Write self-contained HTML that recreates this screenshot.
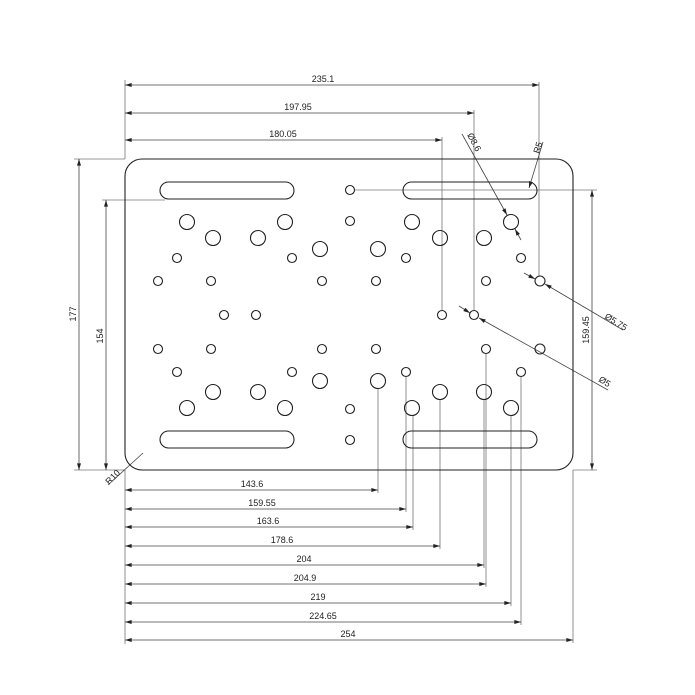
<!DOCTYPE html>
<html><head><meta charset="utf-8"><style>
html,body{margin:0;padding:0;background:#fff}
svg{display:block}
text{font-family:"Liberation Sans",sans-serif;font-size:9px;fill:#222}
</style></head><body>
<svg width="695" height="695" viewBox="0 0 695 695" xmlns="http://www.w3.org/2000/svg">
<defs>
<marker id="a" viewBox="0 0 10 6" refX="10" refY="3" markerWidth="7" markerHeight="4" orient="auto-start-reverse" markerUnits="userSpaceOnUse"><path d="M0,0L10,3L0,6z" fill="#222"/></marker>
</defs>
<g fill="none" stroke="#777" stroke-width="0.8">
<!-- top extension -->
<line x1="125" y1="80" x2="125" y2="159"/>
<line x1="539" y1="82" x2="539" y2="276"/>
<line x1="474" y1="110" x2="474" y2="310"/>
<line x1="442" y1="137" x2="442" y2="310"/>
<!-- left -->
<line x1="74" y1="159" x2="125" y2="159"/>
<line x1="74" y1="470" x2="125" y2="470"/>
<line x1="102" y1="200" x2="165" y2="200"/>
<line x1="355" y1="190" x2="597" y2="190"/>
<line x1="573" y1="470" x2="597" y2="470"/>
<!-- bottom extension -->
<line x1="125" y1="470" x2="125" y2="644"/>
<line x1="378" y1="389" x2="378" y2="493"/>
<line x1="406" y1="377" x2="406" y2="512"/>
<line x1="413" y1="416" x2="413" y2="530"/>
<line x1="440" y1="400" x2="440" y2="549"/>
<line x1="484" y1="400" x2="484" y2="568"/>
<line x1="486" y1="354" x2="486" y2="587"/>
<line x1="511" y1="416" x2="511" y2="606"/>
<line x1="521" y1="377" x2="521" y2="625"/>
<line x1="573" y1="470" x2="573" y2="643"/>
</g>
<g fill="none" stroke="#444" stroke-width="0.8">
<line x1="125" y1="85" x2="539" y2="85" marker-start="url(#a)" marker-end="url(#a)"/>
<line x1="125" y1="113" x2="474" y2="113" marker-start="url(#a)" marker-end="url(#a)"/>
<line x1="125" y1="140" x2="442" y2="140" marker-start="url(#a)" marker-end="url(#a)"/>
<line x1="79" y1="159" x2="79" y2="470" marker-start="url(#a)" marker-end="url(#a)"/>
<line x1="106" y1="200" x2="106" y2="470" marker-start="url(#a)" marker-end="url(#a)"/>
<line x1="592" y1="190" x2="592" y2="470" marker-start="url(#a)" marker-end="url(#a)"/>
<line x1="125" y1="490" x2="378" y2="490" marker-start="url(#a)" marker-end="url(#a)"/>
<line x1="125" y1="509" x2="406" y2="509" marker-start="url(#a)" marker-end="url(#a)"/>
<line x1="125" y1="527" x2="413" y2="527" marker-start="url(#a)" marker-end="url(#a)"/>
<line x1="125" y1="546" x2="440" y2="546" marker-start="url(#a)" marker-end="url(#a)"/>
<line x1="125" y1="565" x2="484" y2="565" marker-start="url(#a)" marker-end="url(#a)"/>
<line x1="125" y1="584" x2="486" y2="584" marker-start="url(#a)" marker-end="url(#a)"/>
<line x1="125" y1="603" x2="511" y2="603" marker-start="url(#a)" marker-end="url(#a)"/>
<line x1="125" y1="622" x2="521" y2="622" marker-start="url(#a)" marker-end="url(#a)"/>
<line x1="125" y1="640" x2="573" y2="640" marker-start="url(#a)" marker-end="url(#a)"/>
<!-- leaders -->
<line x1="462" y1="134" x2="507" y2="215" marker-end="url(#a)"/>
<line x1="521" y1="240" x2="515" y2="229" marker-end="url(#a)"/>
<line x1="543" y1="142" x2="529" y2="188" marker-end="url(#a)"/>
<line x1="524" y1="273" x2="535" y2="279" marker-end="url(#a)"/>
<line x1="623" y1="330" x2="545" y2="284" marker-end="url(#a)"/>
<line x1="459" y1="306" x2="470" y2="313" marker-end="url(#a)"/>
<line x1="608" y1="390" x2="479" y2="318" marker-end="url(#a)"/>
<line x1="108" y1="485" x2="143" y2="453"/>
</g>
<g fill="none" stroke="#222" stroke-width="1.1">
<rect x="125" y="159" width="448" height="311" rx="17" ry="17"/>
<rect x="160" y="182" width="134" height="17" rx="8.5"/>
<rect x="403" y="182" width="134" height="17" rx="8.5"/>
<rect x="160" y="431" width="134" height="17" rx="8.5"/>
<rect x="403" y="431" width="134" height="17" rx="8.5"/>
<g id="h">
<circle cx="187" cy="222" r="7.5"/><circle cx="213" cy="238" r="7.5"/><circle cx="258" cy="238" r="7.5"/><circle cx="285" cy="222" r="7.5"/><circle cx="320" cy="249" r="7.5"/>
<circle cx="378" cy="249" r="7.5"/><circle cx="412" cy="222" r="7.5"/><circle cx="440" cy="238" r="7.5"/><circle cx="484" cy="238" r="7.5"/><circle cx="511" cy="222" r="7.5"/>
<circle cx="350" cy="190" r="4.5"/><circle cx="350" cy="221" r="4.5"/>
<circle cx="177" cy="258" r="4.5"/><circle cx="292" cy="258" r="4.5"/><circle cx="406" cy="258" r="4.5"/><circle cx="521" cy="258" r="4.5"/>
<circle cx="158" cy="281" r="4.5"/><circle cx="211" cy="281" r="4.5"/><circle cx="322" cy="281" r="4.5"/><circle cx="376" cy="281" r="4.5"/><circle cx="486" cy="281" r="4.5"/><circle cx="540" cy="281" r="5"/>
</g>
<use href="#h" transform="translate(0,630) scale(1,-1)"/>
<circle cx="224" cy="315" r="4.5"/><circle cx="256" cy="315" r="4.5"/><circle cx="442" cy="315" r="4.5"/><circle cx="474" cy="315" r="4.5"/>
</g>
<text x="323" y="82" text-anchor="middle">235.1</text>
<text x="298" y="110" text-anchor="middle">197.95</text>
<text x="283" y="137" text-anchor="middle">180.05</text>
<text transform="translate(76,314) rotate(-90)" text-anchor="middle">177</text>
<text transform="translate(103,336) rotate(-90)" text-anchor="middle">154</text>
<text transform="translate(589,330) rotate(-90)" text-anchor="middle">159.45</text>
<text x="252" y="487" text-anchor="middle">143.6</text>
<text x="262" y="506" text-anchor="middle">159.55</text>
<text x="268" y="524" text-anchor="middle">163.6</text>
<text x="282" y="543" text-anchor="middle">178.6</text>
<text x="304" y="562" text-anchor="middle">204</text>
<text x="305" y="581" text-anchor="middle">204.9</text>
<text x="318" y="600" text-anchor="middle">219</text>
<text x="323" y="619" text-anchor="middle">224.65</text>
<text x="348" y="637" text-anchor="middle">254</text>
<text transform="translate(467,135) rotate(62)">Ø8.6</text>
<text transform="translate(539,154) rotate(-72)">R5</text>
<text transform="translate(604,318) rotate(32)">Ø5.75</text>
<text transform="translate(598,381) rotate(32)">Ø5</text>
<text transform="translate(109,485) rotate(-45)">R10</text>
</svg>
</body></html>
